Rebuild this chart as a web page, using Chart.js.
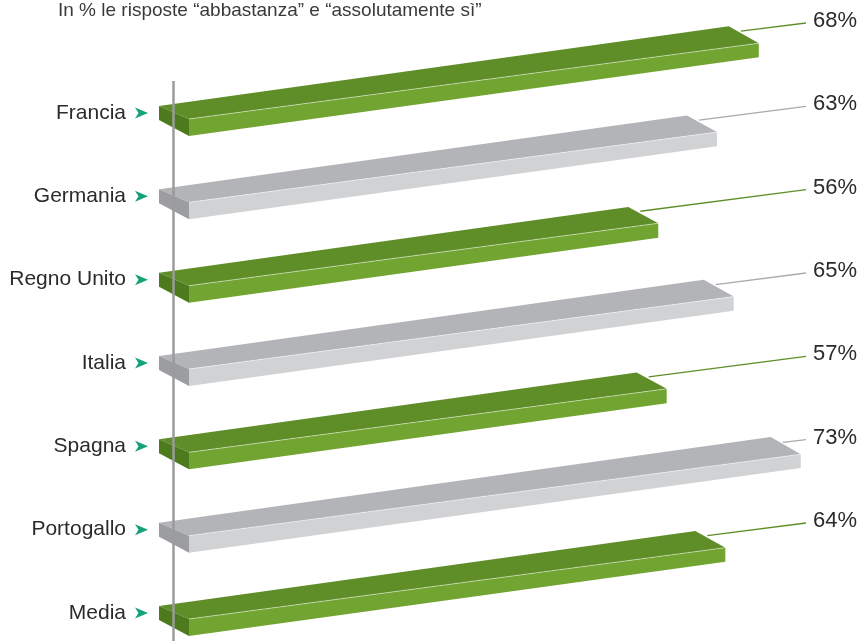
<!DOCTYPE html>
<html>
<head>
<meta charset="utf-8">
<script src="https://cdn.jsdelivr.net/npm/chart.js@4.4.1/dist/chart.umd.min.js"></script>
<style>
  html, body { margin: 0; padding: 0; background: #fff; }
  #wrap { width: 862px; height: 641px; position: relative; }
</style>
</head>
<body>
<div id="wrap"><canvas id="grafico"></canvas></div>
<script>
// Dati del grafico
const titolo = 'In % le risposte “abbastanza” e “assolutamente sì”';
const paesi = ['Francia', 'Germania', 'Regno Unito', 'Italia', 'Spagna', 'Portogallo', 'Media'];
const valori = [68, 63, 56, 65, 57, 73, 64];
const etichette = ['68%', '63%', '56%', '65%', '57%', '73%', '64%'];

// Colori delle barre (alternati verde / grigio)
const verde = { top: '#5f8e29', front: '#72a431', side: '#4e7a1e', line: '#5f8e29' };
const grigio = { top: '#b3b4b8', front: '#d1d2d4', side: '#9c9da1', line: '#a9aaae' };
const font = '"Liberation Sans", Arial, sans-serif';

function poligono(ctx, punti, colore) {
  ctx.beginPath();
  ctx.moveTo(punti[0][0], punti[0][1]);
  for (let i = 1; i < punti.length; i++) ctx.lineTo(punti[i][0], punti[i][1]);
  ctx.closePath();
  ctx.fillStyle = colore;
  ctx.fill();
}

// Barra in prospettiva: x0 = base (zero), xr = valore, y = centro categoria
function barra3d(ctx, x0, xr, y, c) {
  const L = 570;
  const ft = x => y + 6 - 0.133 * (x - x0);
  const sp = x => 17 - 3 * (x - x0) / L;
  const dy = x => -13 - 4 * (x - x0) / L;
  const dx = -30;
  const fl = [x0, ft(x0)], fr = [xr, ft(xr)];
  const bl = [x0 + dx, ft(x0) + dy(x0)], br = [xr + dx, ft(xr) + dy(xr)];
  poligono(ctx, [bl, br, fr, fl], c.top);
  poligono(ctx, [fl, fr, [xr, fr[1] + sp(xr)], [x0, fl[1] + sp(x0)]], c.front);
  poligono(ctx, [bl, fl, [x0, fl[1] + sp(x0)], [bl[0], bl[1] + 14]], c.side);
  // filo chiaro tra faccia superiore e frontale
  ctx.beginPath();
  ctx.moveTo(fl[0], fl[1]);
  ctx.lineTo(fr[0], fr[1]);
  ctx.strokeStyle = 'rgba(255,255,255,0.45)';
  ctx.lineWidth = 1;
  ctx.stroke();
}

const pluginBarre = {
  id: 'barre3d',
  afterDatasetsDraw(chart) {
    const ctx = chart.ctx;
    const meta = chart.getDatasetMeta(0);
    const area = chart.chartArea;
    const ys = chart.scales.y;
    ctx.save();
    meta.data.forEach((el, i) => {
      const c = i % 2 === 0 ? verde : grigio;
      const x0 = el.base, xr = el.x, y = el.y;
      const fty = y + 6 - 0.133 * (xr - x0);
      // linea guida verso l'etichetta
      ctx.beginPath();
      ctx.moveTo(xr - 18, fty - 12);
      ctx.lineTo(806, y - 90);
      ctx.strokeStyle = c.line;
      ctx.lineWidth = 1.3;
      ctx.stroke();
      barra3d(ctx, x0, xr, y, c);
      // etichetta del valore
      ctx.fillStyle = '#2b2b2b';
      ctx.font = '22px ' + font;
      ctx.textAlign = 'left';
      ctx.textBaseline = 'middle';
      ctx.fillText(etichette[i], 813, y - 92);
    });
    // asse verticale grigio
    ctx.beginPath();
    ctx.moveTo(area.left - 15.5, area.top - 32);
    ctx.lineTo(area.left - 15.5, chart.height);
    ctx.strokeStyle = '#9b9b9b';
    ctx.lineWidth = 2.5;
    ctx.stroke();
    // nomi dei paesi e frecce
    paesi.forEach((p, i) => {
      const y = ys.getPixelForValue(i);
      ctx.fillStyle = '#2b2b2b';
      ctx.font = '21px ' + font;
      ctx.textAlign = 'right';
      ctx.textBaseline = 'middle';
      ctx.fillText(p, area.left - 63, y);
      const x = area.left - 54;
      ctx.beginPath();
      ctx.moveTo(x, y - 5.5);
      ctx.lineTo(x + 13, y);
      ctx.lineTo(x, y + 5.5);
      ctx.lineTo(x + 3.5, y);
      ctx.closePath();
      ctx.fillStyle = '#14a27a';
      ctx.fill();
    });
    // titolo
    ctx.fillStyle = '#3a3a3a';
    ctx.font = '19px ' + font;
    ctx.textAlign = 'left';
    ctx.textBaseline = 'middle';
    ctx.fillText(titolo, 58, 11);
    ctx.restore();
  }
};

new Chart(document.getElementById('grafico'), {
  type: 'bar',
  data: {
    labels: paesi,
    datasets: [{
      data: valori,
      backgroundColor: 'rgba(0,0,0,0)',
      borderWidth: 0
    }]
  },
  options: {
    indexAxis: 'y',
    responsive: true,
    maintainAspectRatio: false,
    animation: false,
    events: [],
    layout: { padding: { top: 113, bottom: 28, left: 189, right: 2.6 } },
    plugins: { legend: { display: false }, tooltip: { enabled: false } },
    scales: {
      x: { display: false, min: 0, max: 80 },
      y: { display: false, offset: false }
    }
  },
  plugins: [pluginBarre]
});
</script>
</body>
</html>
